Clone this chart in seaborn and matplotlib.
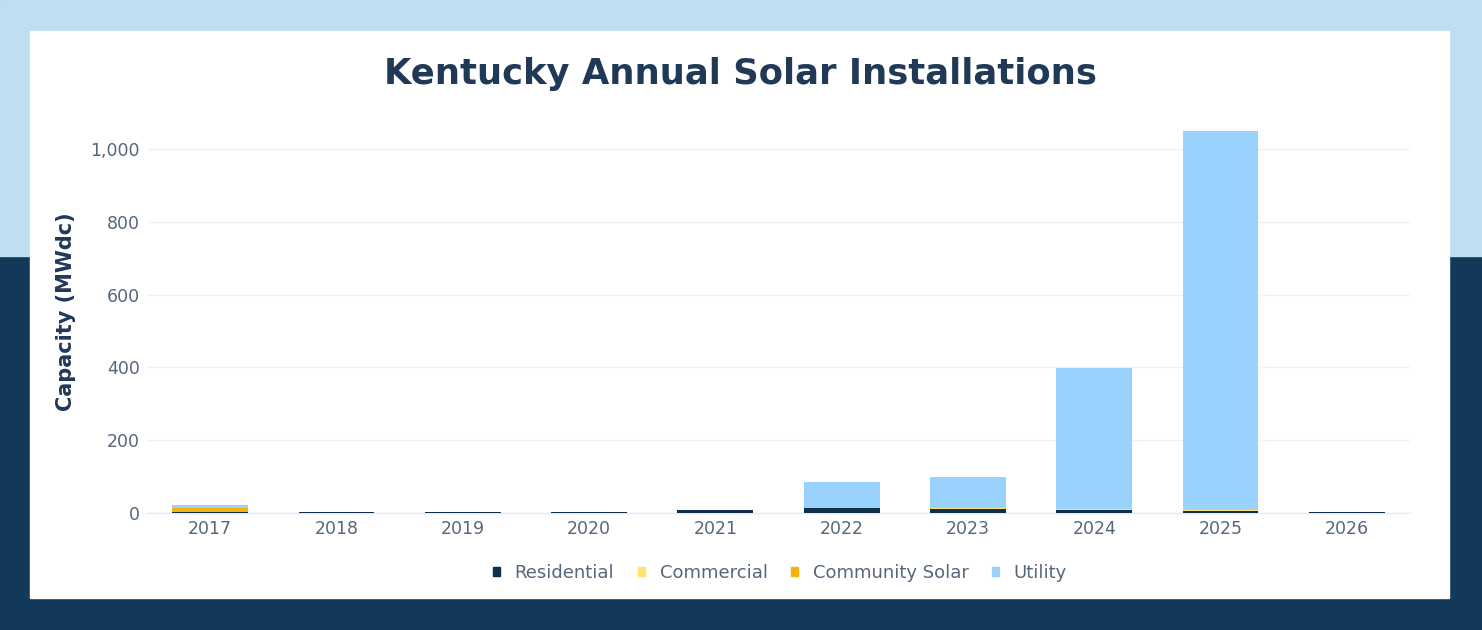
import matplotlib
matplotlib.use("Agg")
import matplotlib.pyplot as plt
import seaborn as sns
import pandas as pd
import numpy as np
from matplotlib.patches import Rectangle

years = ["2017", "2018", "2019", "2020", "2021", "2022", "2023", "2024", "2025", "2026"]
residential = [2, 1.5, 2, 2, 8, 13, 12, 8, 5, 1.5]
commercial = [2, 0, 1.5, 1.5, 1, 2, 3, 2, 2, 0]
community_solar = [9, 0, 0.5, 0, 0, 0, 0, 0, 0, 0]
utility = [10, 0, 0, 0, 0, 71, 85, 388, 1042, 0]

series_names = ["Residential", "Commercial", "Community Solar", "Utility"]
series_vals = [residential, commercial, community_solar, utility]
colors = ["#0f304c", "#ffe36e", "#f6b20c", "#99d3fd"]

sns.set_theme(style="white")
plt.rcParams["font.family"] = ["DejaVu Sans"]

fig = plt.figure(figsize=(14.82, 6.30), dpi=100)
W, H = 1482, 630
# background bands
fig.patches.append(Rectangle((0, 0), 1, 1, transform=fig.transFigure, color="#12395a", zorder=-10))
fig.patches.append(Rectangle((0, 1 - 256 / H), 1, 256 / H, transform=fig.transFigure, color="#bddff1", zorder=-9))
fig.patches.append(Rectangle((30 / W, 1 - 598 / H), (1449 - 30) / W, (598 - 31) / H,
                             transform=fig.transFigure, color="white", zorder=-8))

ax = fig.add_axes([147 / W, 117 / H, (1410 - 147) / W, (513 - 120) / H])
ax.set_facecolor("none")

# cumulative stacks, drawn tallest first
cum = np.cumsum(np.array(series_vals, dtype=float), axis=0)
for i in range(len(series_names) - 1, -1, -1):
    df = pd.DataFrame({"year": years, "value": cum[i]})
    sns.barplot(data=df, x="year", y="value", color=colors[i], width=0.6,
                saturation=1, ax=ax, zorder=3 + (len(series_names) - i), linewidth=0)

ax.set_ylim(0, 1080)
ax.set_yticks([0, 200, 400, 600, 800, 1000])
ax.set_yticklabels(["0", "200", "400", "600", "800", "1,000"])
ax.grid(axis="y", color="#eef1f6", linewidth=1, zorder=0)
ax.grid(axis="x", visible=False)
for s in ["top", "right", "left"]:
    ax.spines[s].set_visible(False)
ax.spines["bottom"].set_color("#e6eaf0")
ax.spines["bottom"].set_linewidth(1)
ax.tick_params(axis="both", length=0, labelsize=12.5, labelcolor="#56667d", pad=5)
ax.set_xlabel("")
ax.set_ylabel("")
ax.set_xlim(-0.5, len(years) - 0.5)

fig.text(66 / W, 1 - 312 / H, "Capacity (MWdc)", rotation=90, ha="center", va="center",
         fontsize=15, fontweight="bold", color="#1f3957")

fig.text(740 / W, 1 - 74 / H, "Kentucky Annual Solar Installations", ha="center", va="center",
         fontsize=25.5, fontweight="bold", color="#1f3957")

handles = [Rectangle((0, 0), 1, 1, color=c) for c in colors]
leg = fig.legend(handles, series_names, loc="center", bbox_to_anchor=(780 / W, 1 - 573 / H),
                 ncol=4, frameon=False, fontsize=13, handlelength=0.4, handleheight=0.4,
                 handletextpad=0.8, columnspacing=1.3)
for t in leg.get_texts():
    t.set_color("#56667d")

fig.savefig("out.png", dpi=100)
